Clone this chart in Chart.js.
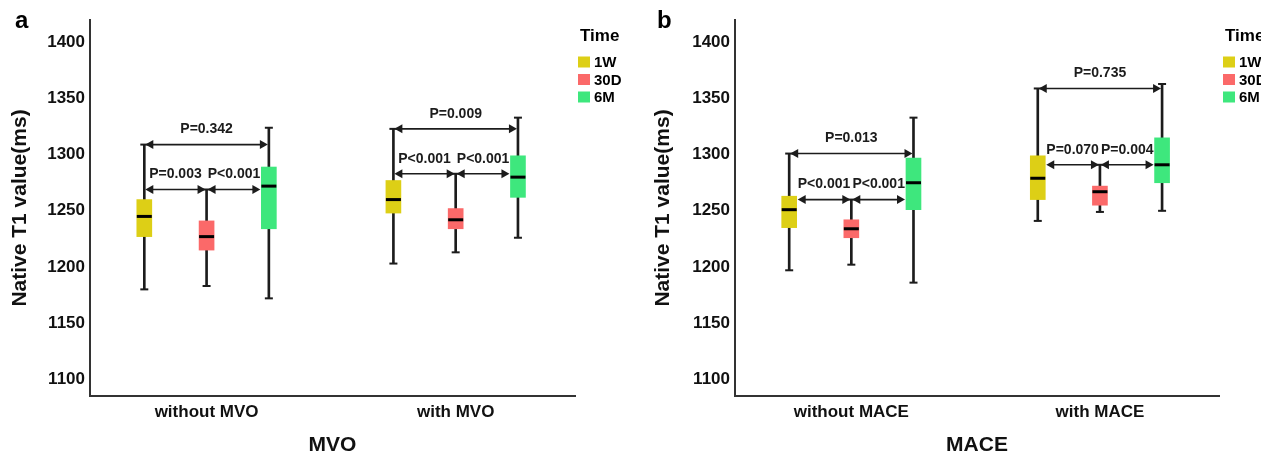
<!DOCTYPE html>
<html><head><meta charset="utf-8">
<script src="https://cdn.jsdelivr.net/npm/chart.js@4/dist/chart.umd.min.js"></script>
<style>
html,body{margin:0;padding:0;background:#fff;overflow:hidden}
#wrap{position:relative;width:1261px;height:451px;overflow:hidden}
#pa{position:absolute;left:0;top:0;width:640px;height:451px;overflow:hidden}
#pb{position:absolute;left:640px;top:0;width:621px;height:451px;overflow:hidden}
canvas{display:block}
</style></head><body>
<div id="wrap">
  <div id="pa"><canvas id="ca" width="640" height="451"></canvas></div>
  <div id="pb"><canvas id="cb" width="621" height="451"></canvas></div>
</div>
<script>
// ---------------- data ----------------
const timePoints = ['1W', '30D', '6M'];
const timeColors = ['#ddcf16', '#fb6969', '#3ee77d'];
const yTickValues = [1100, 1150, 1200, 1250, 1300, 1350, 1400];

// panel a : MVO   each entry = [min, Q1, median, Q3, max]
const mvoCategories = ['without MVO', 'with MVO'];
const mvo1W  = [[1180, 1227, 1245, 1260, 1309], [1203, 1248, 1260, 1277, 1323]];
const mvo30D = [[1183, 1215, 1227, 1241, 1269], [1213, 1234, 1242, 1252, 1283]];
const mvo6M  = [[1172, 1234, 1272, 1289, 1324], [1226, 1262, 1280, 1299, 1333]];
const mvoPValues = [['P=0.342', 'P=0.003', 'P<0.001'], ['P=0.009', 'P<0.001', 'P<0.001']];

// panel b : MACE
const maceCategories = ['without MACE', 'with MACE'];
const mace1W  = [[1197, 1235, 1251, 1263, 1301], [1241, 1260, 1279, 1299, 1359]];
const mace30D = [[1202, 1226, 1234, 1242, 1260], [1249, 1255, 1267, 1272, 1291]];
const mace6M  = [[1186, 1251, 1275, 1297, 1333], [1250, 1275, 1291, 1315, 1363]];
const macePValues = [['P=0.013', 'P<0.001', 'P<0.001'], ['P=0.735', 'P=0.070', 'P=0.004']];

const comparisons = [['1W', '6M'], ['1W', '30D'], ['30D', '6M']];

// ---------------- rendering ----------------
const FONT = "'Liberation Sans', Arial, sans-serif";
const INK = '#1c1c1c';
const timeOffsets = [-0.25, 0, 0.25];
const BOX_W = 15;

function makePanel(canvasId, cfg) {
  const series = cfg.series;
  const datasets = [];
  series.forEach((s, i) => {
    const xs = s.map((_, k) => k + 1 + timeOffsets[i]);
    datasets.push({
      type: 'bar', data: s.map((v, k) => ({x: xs[k], y: [v[0], v[4]]})),
      backgroundColor: INK, barThickness: 2, grouped: false, order: 3, borderWidth: 0
    });
    datasets.push({
      type: 'bar', label: timePoints[i], isBox: true,
      data: s.map((v, k) => ({x: xs[k], y: [v[1], v[3]]})),
      backgroundColor: timeColors[i], barThickness: BOX_W, grouped: false, order: 2, borderWidth: 0
    });
    const caps = [];
    s.forEach((v, k) => { caps.push({x: xs[k], y: v[0]}); caps.push({x: xs[k], y: v[4]}); });
    datasets.push({
      type: 'line', showLine: false, data: caps, pointStyle: 'line', pointRadius: 4,
      pointBorderColor: INK, pointBorderWidth: 2, borderColor: INK, order: 1
    });
    datasets.push({
      type: 'line', showLine: false, data: s.map((v, k) => ({x: xs[k], y: v[2]})),
      pointStyle: 'line', pointRadius: 7.5, pointBorderColor: '#000', pointBorderWidth: 3,
      borderColor: '#000', order: 0
    });
  });

  const plugin = {
    id: 'annot_' + canvasId,
    afterDatasetsDraw(chart) {
      const ctx = chart.ctx, xs = chart.scales.x, ys = chart.scales.y;
      ctx.save();
      ctx.strokeStyle = INK; ctx.fillStyle = INK; ctx.lineWidth = 1.6;
      cfg.categories.forEach((c, k) => {
        comparisons.forEach((pair, j) => {
          const a = timePoints.indexOf(pair[0]), b = timePoints.indexOf(pair[1]);
          const val = Math.min(series[a][k][4], series[b][k][4]);
          const inBox = (idx) => val >= series[idx][k][1] && val <= series[idx][k][3];
          const x1 = xs.getPixelForValue(k + 1 + timeOffsets[a]) + (inBox(a) ? BOX_W / 2 + 1 : 1);
          const x2 = xs.getPixelForValue(k + 1 + timeOffsets[b]) - (inBox(b) ? BOX_W / 2 + 1 : 1);
          const yy = ys.getPixelForValue(val);
          ctx.beginPath(); ctx.moveTo(x1 + 6, yy); ctx.lineTo(x2 - 6, yy); ctx.stroke();
          ctx.beginPath(); ctx.moveTo(x1, yy); ctx.lineTo(x1 + 8, yy - 4.5); ctx.lineTo(x1 + 8, yy + 4.5); ctx.closePath(); ctx.fill();
          ctx.beginPath(); ctx.moveTo(x2, yy); ctx.lineTo(x2 - 8, yy - 4.5); ctx.lineTo(x2 - 8, yy + 4.5); ctx.closePath(); ctx.fill();
          ctx.font = 'bold 14px ' + FONT;
          ctx.textAlign = 'center'; ctx.textBaseline = 'middle';
          ctx.fillText(cfg.pValues[k][j], (x1 + x2) / 2, yy - 15);
        });
      });
      ctx.restore();
    },
    afterDraw(chart) {
      const ctx = chart.ctx, area = chart.chartArea;
      ctx.save();
      ctx.fillStyle = '#000';
      ctx.textAlign = 'left'; ctx.textBaseline = 'alphabetic';
      ctx.font = 'bold 24px ' + FONT;
      ctx.fillText(cfg.letter, cfg.letterX, 28);
      // legend
      const x0 = area.right + cfg.legendGap;
      ctx.textBaseline = 'middle';
      ctx.font = 'bold 17px ' + FONT;
      ctx.fillText('Time', x0 + 2, 36);
      ctx.font = 'bold 15px ' + FONT;
      chart.data.datasets.filter(d => d.isBox).forEach((d, i) => {
        const yy = 62 + i * 17.5;
        ctx.fillStyle = d.backgroundColor;
        ctx.fillRect(x0, yy - 5.5, 12, 11);
        ctx.fillStyle = '#000';
        ctx.fillText(d.label, x0 + 16, yy + 1);
      });
      ctx.restore();
    }
  };

  return new Chart(document.getElementById(canvasId), {
    type: 'bar',
    data: {datasets},
    plugins: [plugin],
    options: {
      responsive: false, animation: false, events: [],
      layout: {padding: {top: 20, right: cfg.padRight, left: 0, bottom: 0}},
      plugins: {legend: {display: false}, tooltip: {enabled: false}},
      scales: {
        x: {
          type: 'linear', min: 0.532, max: 2.479, offset: false,
          grid: {display: false, drawTicks: false},
          border: {display: true, color: '#333', width: 2},
          afterBuildTicks: s => { s.ticks = cfg.categories.map((_, k) => ({value: k + 1})); },
          afterFit: s => { s.height = 55; },
          ticks: {
            callback: v => cfg.categories[Math.round(v) - 1],
            font: {family: FONT, size: 17, weight: 'bold'}, color: '#111',
            padding: 6, autoSkip: false, maxRotation: 0
          },
          title: {display: true, text: cfg.xTitle, color: '#111',
                  font: {family: FONT, size: 21, weight: 'bold'}, padding: {top: 0, bottom: -7}}
        },
        y: {
          type: 'linear', min: 1085, max: 1420,
          grid: {display: false, drawTicks: false},
          border: {display: true, color: '#333', width: 2},
          afterBuildTicks: s => { s.ticks = yTickValues.map(v => ({value: v})); },
          afterFit: s => { s.width = cfg.yWidth; },
          ticks: {callback: v => String(v), font: {family: FONT, size: 17, weight: 'bold'}, color: '#111', padding: 5},
          title: {display: true, text: 'Native T1 value(ms)', color: '#111',
                  font: {family: FONT, size: 21, weight: 'bold'}, padding: {top: cfg.yTitlePad, bottom: 0}}
        }
      }
    }
  });
}

makePanel('ca', {
  categories: mvoCategories, series: [mvo1W, mvo30D, mvo6M], pValues: mvoPValues,
  xTitle: 'MVO', letter: 'a', letterX: 15, padRight: 65, yWidth: 90, yTitlePad: 8, legendGap: 3
});
makePanel('cb', {
  categories: maceCategories, series: [mace1W, mace30D, mace6M], pValues: macePValues,
  xTitle: 'MACE', letter: 'b', letterX: 17, padRight: 42, yWidth: 95, yTitlePad: 11, legendGap: 4
});
</script>
</body></html>
